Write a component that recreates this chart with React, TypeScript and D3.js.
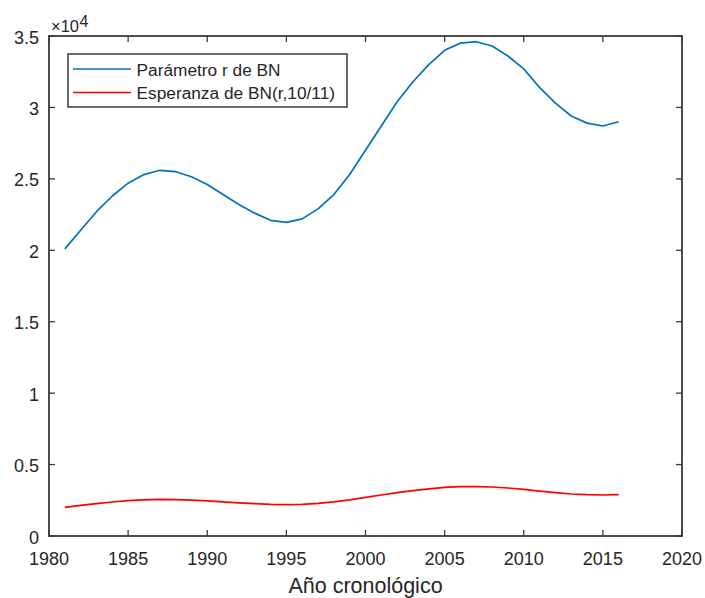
import React from "react";
import * as d3 from "d3";

// Years of the series
const years = [
  1981, 1982, 1983, 1984, 1985, 1986, 1987, 1988, 1989, 1990, 1991, 1992,
  1993, 1994, 1995, 1996, 1997, 1998, 1999, 2000, 2001, 2002, 2003, 2004,
  2005, 2006, 2007, 2008, 2009, 2010, 2011, 2012, 2013, 2014, 2015, 2016,
];

// Parámetro r de BN
const rValues = [
  20100, 21400, 22700, 23800, 24700, 25300, 25600, 25500, 25150, 24600,
  23900, 23200, 22600, 22100, 21950, 22200, 22900, 23900, 25300, 27000,
  28700, 30400, 31800, 33000, 34000, 34500, 34600, 34300, 33600, 32700,
  31400, 30300, 29400, 28900, 28700, 29000,
];

// Esperanza de BN(r,10/11)
const meanValues = [
  2010, 2140, 2270, 2380, 2470, 2530, 2560, 2550, 2515, 2460,
  2390, 2320, 2260, 2210, 2195, 2220, 2290, 2390, 2530, 2700,
  2870, 3040, 3180, 3300, 3400, 3450, 3460, 3430, 3360, 3270,
  3140, 3030, 2940, 2890, 2870, 2900,
];

const xTicks = [1980, 1985, 1990, 1995, 2000, 2005, 2010, 2015, 2020];
const yTicks = [0, 5000, 10000, 15000, 20000, 25000, 30000, 35000];
const yTickLabels = ["0", "0.5", "1", "1.5", "2", "2.5", "3", "3.5"];

const seriesNames = ["Parámetro r de BN", "Esperanza de BN(r,10/11)"];
const seriesColors = ["#0072BD", "#FF0000"];

const W = 705;
const H = 598;
const box = { left: 49, right: 682, top: 36, bottom: 536 };
const axisColor = "#3a3a3a";
const textColor = "#262626";
const font = "'Liberation Sans', Arial, Helvetica, sans-serif";
const tickLen = 6;

export default function App() {
  const x = d3.scaleLinear().domain([1980, 2020]).range([box.left, box.right]);
  const y = d3.scaleLinear().domain([0, 35000]).range([box.bottom, box.top]);

  const line = d3
    .line<number>()
    .x((_, i) => x(years[i]))
    .y((d) => y(d))
    .curve(d3.curveLinear);

  const series = [rValues, meanValues];

  return (
    <svg
      width={W}
      height={H}
      style={{ position: "fixed", left: 0, top: 0, background: "#fff" }}
      fontFamily={font}
    >
      <rect x={0} y={0} width={W} height={H} fill="#fff" />

      {/* data lines */}
      {series.map((vals, i) => (
        <path
          key={i}
          d={line(vals) ?? ""}
          fill="none"
          stroke={seriesColors[i]}
          strokeWidth={1.7}
          strokeLinejoin="round"
        />
      ))}

      {/* x ticks, bottom and top */}
      {xTicks.map((t) => (
        <g key={"xt" + t}>
          <line x1={x(t)} x2={x(t)} y1={box.bottom} y2={box.bottom - tickLen} stroke={axisColor} strokeWidth={1.3} />
          <line x1={x(t)} x2={x(t)} y1={box.top} y2={box.top + tickLen} stroke={axisColor} strokeWidth={1.3} />
          <text x={x(t)} y={565} fontSize={18} fill={textColor} textAnchor="middle">
            {t}
          </text>
        </g>
      ))}

      {/* y ticks, left and right */}
      {yTicks.map((t, i) => (
        <g key={"yt" + t}>
          <line x1={box.left} x2={box.left + tickLen} y1={y(t)} y2={y(t)} stroke={axisColor} strokeWidth={1.3} />
          <line x1={box.right} x2={box.right - tickLen} y1={y(t)} y2={y(t)} stroke={axisColor} strokeWidth={1.3} />
          <text x={39} y={y(t) + 7.5} fontSize={18} fill={textColor} textAnchor="end">
            {yTickLabels[i]}
          </text>
        </g>
      ))}

      {/* axes box */}
      <rect
        x={box.left}
        y={box.top}
        width={box.right - box.left}
        height={box.bottom - box.top}
        fill="none"
        stroke={axisColor}
        strokeWidth={1.8}
      />

      {/* exponent multiplier */}
      <text x={51} y={31.5} style={{ fontSize: "16.5px" }} fill={textColor}>
        ×10
      </text>
      <text x={79.5} y={26.5} style={{ fontSize: "16px" }} fill={textColor}>
        4
      </text>

      {/* x axis title */}
      <text x={(box.left + box.right) / 2} y={592.5} fontSize={21.5} fill={textColor} textAnchor="middle">
        Año cronológico
      </text>

      {/* legend */}
      <g>
        <rect x={68} y={54} width={279} height={53} fill="#fff" stroke={axisColor} strokeWidth={1.5} />
        {seriesNames.map((name, i) => (
          <g key={name}>
            <line
              x1={73}
              x2={131}
              y1={69 + i * 23.5}
              y2={69 + i * 23.5}
              stroke={seriesColors[i]}
              strokeWidth={1.7}
            />
            <text x={136.5} y={75.5 + i * 23.5} fontSize={17.3} fill={textColor}>
              {name}
            </text>
          </g>
        ))}
      </g>
    </svg>
  );
}
